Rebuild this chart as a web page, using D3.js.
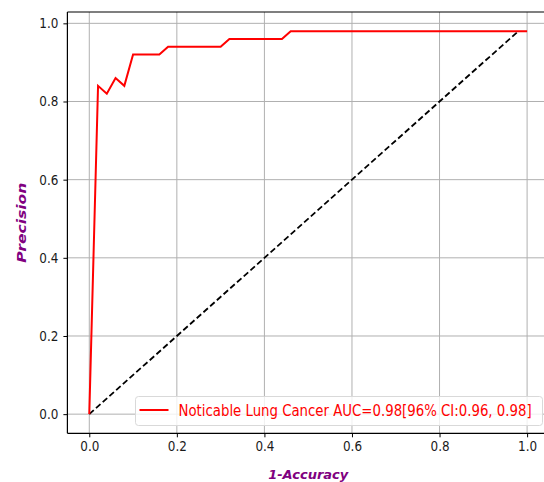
<!DOCTYPE html>
<html>
<head>
<meta charset="utf-8">
<script src="https://cdn.jsdelivr.net/npm/d3@7"></script>
<style>
  body { margin: 0; background: #fff; }
  svg { display: block; font-family: "DejaVu Sans", sans-serif; }
  .tall { transform-box: fill-box; transform-origin: center; transform: scaleY(1.13); }
</style>
</head>
<body>
<div id="viz"></div>
<script>
// curve
const recall = [0, 0.02, 0.04, 0.06, 0.08, 0.10, 0.16, 0.18, 0.30, 0.32, 0.44, 0.46, 1.0];
const precision = [0, 0.84, 0.82, 0.86, 0.84, 0.92, 0.92, 0.94, 0.94, 0.96, 0.96, 0.98, 0.98];
const chanceX = [0, 0.98];
const chanceY = [0, 0.98];
const tickVals = [0, 0.2, 0.4, 0.6, 0.8, 1.0];
const legendLabel = "Noticable Lung Cancer AUC=0.98[96% CI:0.96, 0.98]";

const width = 544, height = 482;
const plotL = 67.4, plotR = 549, plotT = 12, plotB = 433.3;

const svg = d3.select("#viz").append("svg")
  .attr("width", width)
  .attr("height", height);

const x = d3.scaleLinear().domain([-0.05, 1.05]).range([plotL, plotR]);
const y = d3.scaleLinear().domain([-0.049, 1.029]).range([plotB, plotT]);

// grid
const grid = svg.append("g").attr("stroke", "#b0b0b0").attr("stroke-width", 1);
grid.selectAll("line.gx").data(tickVals).enter().append("line")
  .attr("x1", d => x(d)).attr("x2", d => x(d))
  .attr("y1", plotT).attr("y2", plotB);
grid.selectAll("line.gy").data(tickVals).enter().append("line")
  .attr("x1", plotL).attr("x2", plotR)
  .attr("y1", d => y(d)).attr("y2", d => y(d));

// axes
const xAxis = svg.append("g")
  .attr("transform", `translate(0,${plotB})`)
  .call(d3.axisBottom(x).tickValues(tickVals).tickFormat(d3.format(".1f")).tickSizeOuter(0).tickSize(4).tickPadding(5));
const yAxis = svg.append("g")
  .attr("transform", `translate(${plotL},0)`)
  .call(d3.axisLeft(y).tickValues(tickVals).tickFormat(d3.format(".1f")).tickSizeOuter(0).tickSize(4).tickPadding(5));
[xAxis, yAxis].forEach(a => {
  a.select(".domain").remove();
  a.selectAll("text").attr("font-size", 12).attr("fill", "#1a1a1a")
    .attr("font-family", "DejaVu Sans, sans-serif")
    .attr("class", "tall");
  a.selectAll(".tick line").attr("stroke", "#000");
});

// diagonal
svg.append("path")
  .datum(d3.zip(chanceX, chanceY))
  .attr("d", d3.line().x(d => x(d[0])).y(d => y(d[1])))
  .attr("fill", "none")
  .attr("stroke", "#000")
  .attr("stroke-width", 1.8)
  .attr("stroke-dasharray", "6,3");

// curve
svg.append("path")
  .datum(d3.zip(recall, precision))
  .attr("d", d3.line().x(d => x(d[0])).y(d => y(d[1])))
  .attr("fill", "none")
  .attr("stroke", "#ff0000")
  .attr("stroke-width", 2);

// spines
const sp = svg.append("g").attr("stroke", "#000").attr("stroke-width", 1.2);
sp.append("line").attr("x1", plotL).attr("x2", plotL).attr("y1", plotT).attr("y2", plotB);
sp.append("line").attr("x1", plotL).attr("x2", plotR).attr("y1", plotB).attr("y2", plotB);
sp.append("line").attr("x1", plotL).attr("x2", plotR).attr("y1", plotT).attr("y2", plotT);

// legend
const lg = svg.append("g");
lg.append("rect")
  .attr("x", 135.5).attr("y", 396.5).attr("width", 407).attr("height", 29)
  .attr("rx", 3)
  .attr("fill", "rgba(255,255,255,0.8)")
  .attr("stroke", "#d9d9d9");
lg.append("line")
  .attr("x1", 139.5).attr("x2", 168.5).attr("y1", 410).attr("y2", 410)
  .attr("stroke", "#ff0000").attr("stroke-width", 2);
lg.append("text")
  .attr("x", 178.5).attr("y", 410.5)
  .attr("dominant-baseline", "central")
  .attr("font-size", 13.3)
  .attr("fill", "#ff0000")
  .attr("class", "tall")
  .text(legendLabel);

// axis labels
svg.append("text")
  .attr("x", (plotL + plotR) / 2).attr("y", 479)
  .attr("text-anchor", "middle")
  .attr("font-size", 13).attr("font-weight", "bold").attr("font-style", "italic")
  .attr("fill", "#800080")
  .text("1-Accuracy");
svg.append("text")
  .attr("transform", `translate(26,${(plotT + plotB) / 2}) rotate(-90)`)
  .attr("text-anchor", "middle")
  .attr("font-size", 13).attr("font-weight", "bold").attr("font-style", "italic")
  .attr("fill", "#800080")
  .attr("textLength", 80).attr("lengthAdjust", "spacingAndGlyphs")
  .text("Precision");
</script>
</body>
</html>
